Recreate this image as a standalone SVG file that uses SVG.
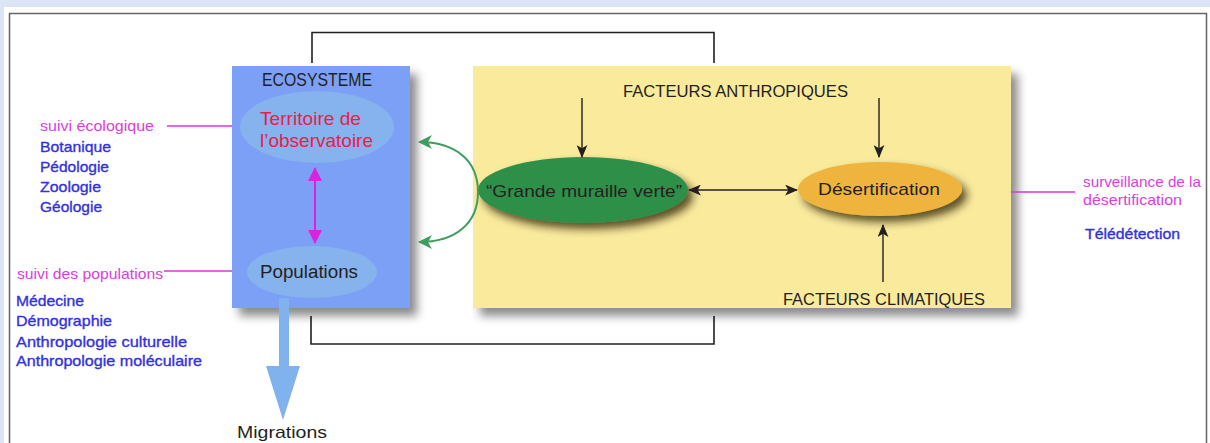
<svg xmlns="http://www.w3.org/2000/svg" width="1210" height="443" viewBox="0 0 1210 443">
<defs>
<style>
text{font-family:"Liberation Sans",Arial,sans-serif;}
.dk{fill:#231f20;}
.mag{fill:#dd3ddd;font-size:15px;}
.blu{fill:#3232dd;font-size:15px;stroke:#3232dd;stroke-width:0.35;}
.conn{fill:none;stroke:#231f20;stroke-width:1.6;}
.blk{fill:none;stroke:#231f20;stroke-width:1.4;}
.mline{fill:none;stroke:#dd33dd;stroke-width:1.6;}
.grn{fill:none;stroke:#3f9e5e;stroke-width:2;}
</style>
<filter id="sh" x="-10%" y="-10%" width="130%" height="140%">
<feDropShadow dx="7" dy="8" stdDeviation="5" flood-color="#000" flood-opacity="0.45"/>
</filter>
<filter id="sh2" x="-20%" y="-20%" width="150%" height="160%">
<feDropShadow dx="5" dy="6" stdDeviation="4" flood-color="#2a1a00" flood-opacity="0.75"/>
</filter>
<marker id="ab" viewBox="0 0 12 10" refX="11" refY="5" markerWidth="13" markerHeight="11" markerUnits="userSpaceOnUse" orient="auto-start-reverse">
<path d="M0,0 L12,5 L0,10 L3,5 Z" fill="#231f20"/>
</marker>
<marker id="am" viewBox="0 0 14 14" refX="13" refY="7" markerWidth="14" markerHeight="14" markerUnits="userSpaceOnUse" orient="auto-start-reverse">
<path d="M0,0 L14,7 L0,14 Z" fill="#dd22dd"/>
</marker>
<marker id="ag" viewBox="0 0 14 14" refX="13" refY="7" markerWidth="14" markerHeight="14" markerUnits="userSpaceOnUse" orient="auto-start-reverse">
<path d="M0,0 L14,7 L0,14 L4,7 Z" fill="#3f9e5e"/>
</marker>
</defs>

<rect x="0" y="0" width="1210" height="443" fill="#dce5f5"/>
<rect x="4" y="7" width="1206" height="436" fill="#ffffff"/>
<path d="M9.5,443 V13.5 H1206.5 V443" fill="none" stroke="#666" stroke-width="1.5"/>

<g id="connectors">
<polyline class="conn" points="312,63 312,32.5 714,32.5 714,63"/>
<polyline class="conn" points="311,316 311,344 714,344 714,316"/>
</g>

<g id="ecosysteme">
<rect x="232" y="66" width="178" height="242" fill="#7ba0f5" filter="url(#sh)"/>
<text x="262" y="86" class="dk" font-size="18" textLength="110" lengthAdjust="spacingAndGlyphs">ECOSYSTEME</text>
</g>

<g id="territoire">
<ellipse cx="317" cy="127" rx="77" ry="36" fill="#86b2ee"/>
<text x="260" y="125" fill="#e8204a" font-size="19" textLength="101" lengthAdjust="spacingAndGlyphs">Territoire de</text>
<text x="260" y="147" fill="#e8204a" font-size="19" textLength="113" lengthAdjust="spacingAndGlyphs">l’observatoire</text>
</g>

<g id="populations">
<ellipse cx="312" cy="272" rx="65" ry="26" fill="#86b2ee"/>
<text x="260" y="278" class="dk" font-size="18" textLength="98" lengthAdjust="spacingAndGlyphs">Populations</text>
</g>

<g id="migrations">
<path d="M279,298 H289 V366 H300 L283,420 L266,366 H279 Z" fill="#80b3ee"/>
<text x="237" y="438" class="dk" font-size="17" textLength="90" lengthAdjust="spacingAndGlyphs">Migrations</text>
</g>

<g id="facteurs-box">
<rect x="473" y="66" width="538" height="242" fill="#f9ea9c" filter="url(#sh)"/>
<text x="623" y="97" class="dk" font-size="17" textLength="225" lengthAdjust="spacingAndGlyphs">FACTEURS ANTHROPIQUES</text>
<text x="783" y="305" class="dk" font-size="17" textLength="202" lengthAdjust="spacingAndGlyphs">FACTEURS CLIMATIQUES</text>
</g>

<g id="grande-muraille">
<ellipse cx="583" cy="190" rx="105" ry="33" fill="#2f8f4a" filter="url(#sh2)"/>
<text x="486" y="197" class="dk" font-size="17" textLength="196" lengthAdjust="spacingAndGlyphs">“Grande muraille verte”</text>
</g>

<g id="desertification">
<ellipse cx="880" cy="189" rx="82" ry="27" fill="#efb43c" filter="url(#sh2)"/>
<text x="818" y="195" class="dk" font-size="17" textLength="122" lengthAdjust="spacingAndGlyphs">Désertification</text>
</g>

<g id="suivi-ecologique">
<text x="40" y="131" class="mag" textLength="114" lengthAdjust="spacingAndGlyphs">suivi écologique</text>
<text x="40" y="152" class="blu" textLength="71" lengthAdjust="spacingAndGlyphs">Botanique</text>
<text x="40" y="172" class="blu" textLength="69" lengthAdjust="spacingAndGlyphs">Pédologie</text>
<text x="40" y="192" class="blu" textLength="61" lengthAdjust="spacingAndGlyphs">Zoologie</text>
<text x="40" y="212" class="blu" textLength="62" lengthAdjust="spacingAndGlyphs">Géologie</text>
</g>

<g id="suivi-populations">
<text x="17" y="279" class="mag" textLength="146" lengthAdjust="spacingAndGlyphs">suivi des populations</text>
<text x="16" y="306" class="blu" textLength="68" lengthAdjust="spacingAndGlyphs">Médecine</text>
<text x="16" y="326" class="blu" textLength="96" lengthAdjust="spacingAndGlyphs">Démographie</text>
<text x="16" y="347" class="blu" textLength="171" lengthAdjust="spacingAndGlyphs">Anthropologie culturelle</text>
<text x="16" y="366" class="blu" textLength="186" lengthAdjust="spacingAndGlyphs">Anthropologie moléculaire</text>
</g>

<g id="surveillance">
<text x="1083" y="187" class="mag" textLength="118" lengthAdjust="spacingAndGlyphs">surveillance de la</text>
<text x="1083" y="205" class="mag" textLength="99" lengthAdjust="spacingAndGlyphs">désertification</text>
<text x="1085" y="239" class="blu" textLength="95" lengthAdjust="spacingAndGlyphs">Télédétection</text>
</g>

<g id="links">
<line class="mline" x1="167" y1="126" x2="232" y2="126"/>
<line class="mline" x1="164" y1="271" x2="232" y2="271"/>
<line class="mline" x1="1011" y1="192" x2="1075" y2="192"/>
<line x1="315" y1="168" x2="315" y2="243" stroke="#dd22dd" stroke-width="2" marker-start="url(#am)" marker-end="url(#am)"/>
<path class="grn" d="M478,192 C478,160 455,142 419,142" marker-end="url(#ag)"/>
<path class="grn" d="M478,192 C478,224 455,242 419,242" marker-end="url(#ag)"/>
<line class="blk" x1="582" y1="98" x2="582" y2="157" marker-end="url(#ab)"/>
<line class="blk" x1="879" y1="98" x2="879" y2="157" marker-end="url(#ab)"/>
<line class="blk" x1="883" y1="282" x2="883" y2="225" marker-end="url(#ab)"/>
<line class="blk" x1="689" y1="190" x2="797" y2="190" marker-start="url(#ab)" marker-end="url(#ab)"/>
</g>
</svg>
